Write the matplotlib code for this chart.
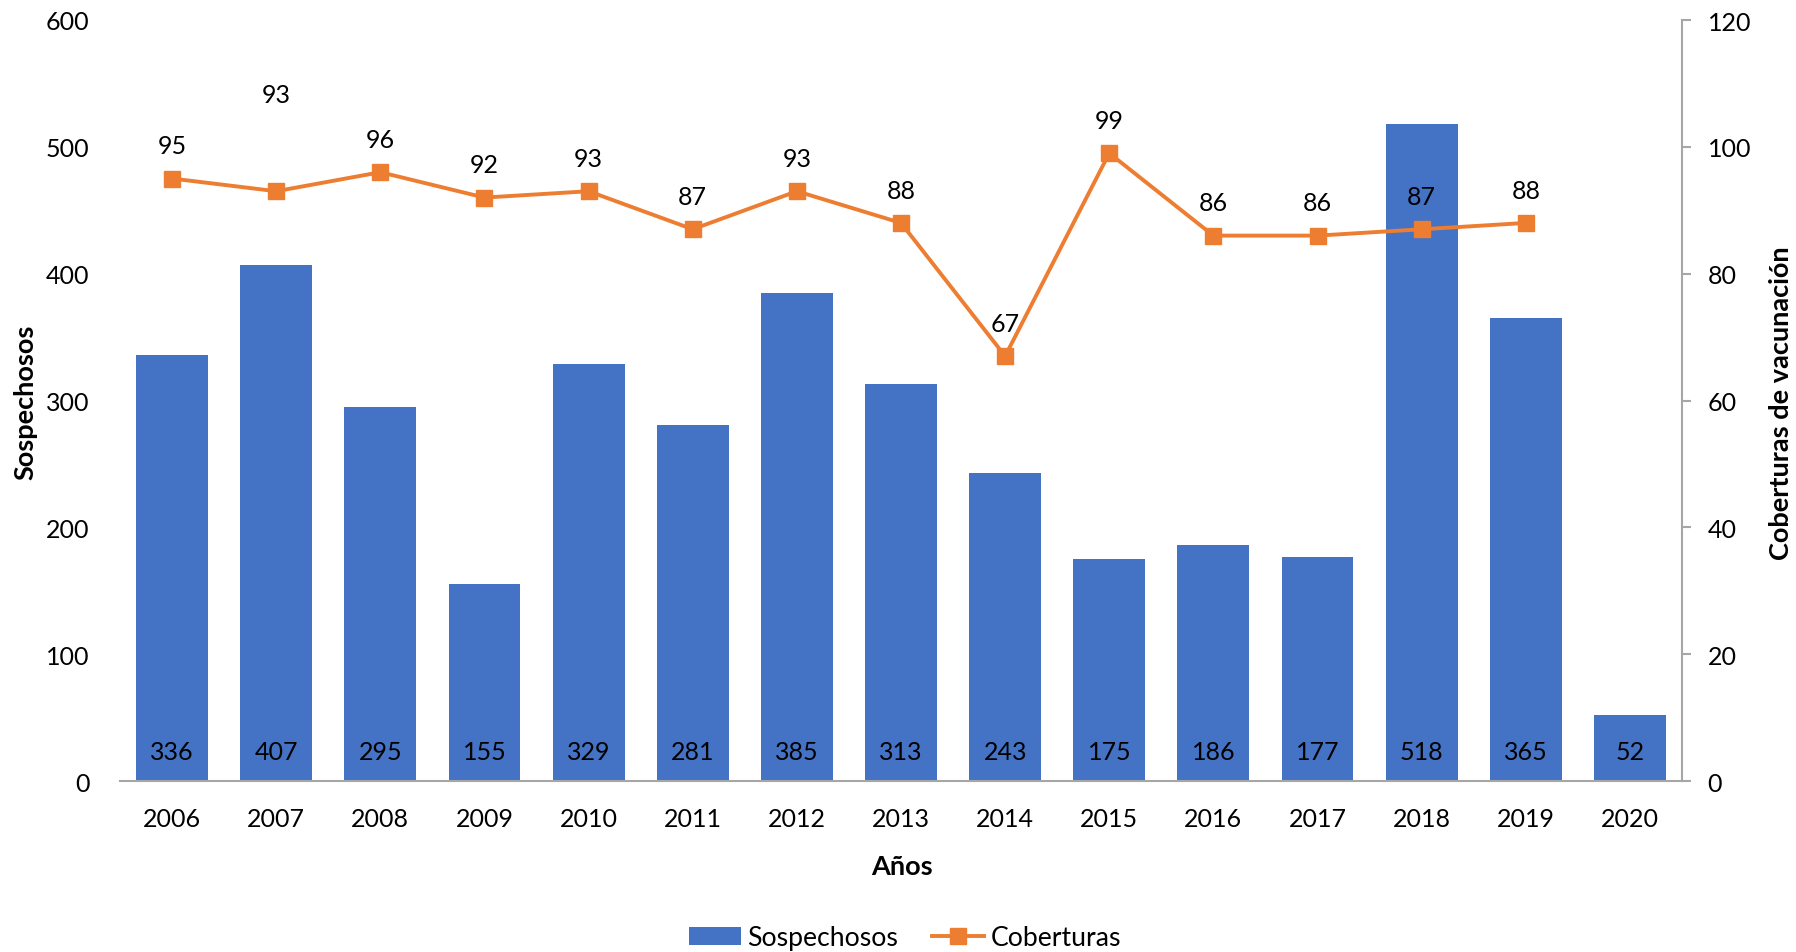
import matplotlib
matplotlib.use("Agg")
import matplotlib.pyplot as plt
from matplotlib.lines import Line2D
from matplotlib.patches import Patch

years = ["2006", "2007", "2008", "2009", "2010", "2011", "2012", "2013",
         "2014", "2015", "2016", "2017", "2018", "2019", "2020"]
sospechosos = [336, 407, 295, 155, 329, 281, 385, 313, 243, 175, 186, 177, 518, 365, 52]
coberturas = [95, 93, 96, 92, 93, 87, 93, 88, 67, 99, 86, 86, 87, 88]

BLUE = "#4472C4"
ORANGE = "#ED7D31"
plt.rcParams['font.family'] = ['Lato', 'DejaVu Sans']
FS = 18.5
FSL = 19.5
FSB = 19

W, H = 1796, 953
fig = plt.figure(figsize=(W/100, H/100), dpi=100)
ax = fig.add_axes([120/W, 1-782/H, (1682-120)/W, (782-21)/H])
x = list(range(len(years)))
ax.bar(x, sospechosos, width=0.69, color=BLUE, zorder=2)
ax.set_xlim(-0.5, len(years)-0.5)
ax.set_ylim(0, 600)
ax.set_yticks([0, 100, 200, 300, 400, 500, 600])
ax.set_xticks(x)
ax.set_xticklabels(years)
for s in ["top", "right", "left"]:
    ax.spines[s].set_visible(False)
ax.spines["bottom"].set_color("#A6A6A6")
ax.spines["bottom"].set_linewidth(1.5)
ax.tick_params(axis="y", length=0, pad=22, labelsize=FS)
ax.tick_params(axis="x", length=0, pad=19, labelsize=FS)
for xi, v in zip(x, sospechosos):
    ax.annotate(str(v), (xi, 0), xytext=(0, 21.5), textcoords="offset points",
                ha="center", va="center", fontsize=FS, color="black", zorder=4)

ax2 = ax.twinx()
ax2.set_ylim(0, 120)
ax2.set_yticks([0, 20, 40, 60, 80, 100, 120])
for s in ["top", "left", "bottom"]:
    ax2.spines[s].set_visible(False)
ax2.spines["right"].set_color("#A6A6A6")
ax2.spines["right"].set_linewidth(1.5)
ax2.tick_params(axis="y", length=6.5, width=1.5, color="#A6A6A6", pad=12, labelsize=FS)
ax2.plot(x[:len(coberturas)], coberturas, color=ORANGE, lw=2.8, marker="s",
         markersize=12, zorder=3)
for xi, v in zip(x, coberturas):
    off = 70 if xi == 1 else 23.5
    ax2.annotate(str(v), (xi, v), xytext=(0, off), textcoords="offset points",
                 ha="center", va="center", fontsize=FS, color="black")

t_left = fig.text(25/W, 1-402/H, "Sospechosos", rotation=90, ha="center", va="center",
                  fontsize=FSB, fontweight="bold")
t_right = fig.text(1781/W, 1-403/H, "Coberturas de vacunación", rotation=90, ha="center",
                   va="center", fontsize=FSB, fontweight="bold")
t_x = fig.text(902/W, 1-867/H, "Años", ha="center", va="center", fontsize=FSB, fontweight="bold")

handles = [Patch(facecolor=BLUE), Line2D([], [], color=ORANGE, lw=2.8, marker="s", markersize=12)]
leg = fig.legend(handles, ["Sospechosos", "Coberturas"], loc="center",
                 bbox_to_anchor=(905/W, 1-939/H), ncol=2, frameon=False,
                 fontsize=FSL, handlelength=1.9, handleheight=0.6, handletextpad=0.25,
                 columnspacing=1.25, borderpad=0.2)

# fit bold axis-title sizes to the reference's measured text lengths (pixels)
fig.canvas.draw()
r = fig.canvas.get_renderer()
len_left = t_left.get_window_extent(r).height
len_right = t_right.get_window_extent(r).height
scale = (154 / len_left + 317 / len_right) / 2
newb = FSB * scale
for t in (t_left, t_right, t_x):
    t.set_fontsize(newb)
# fit tick label size to ~58 px for a four-digit year
tw = ax.get_xticklabels()[0].get_window_extent(r).width
newfs = FS * 58 / tw
ax.tick_params(axis="both", labelsize=newfs)
ax2.tick_params(axis="y", labelsize=newfs)
for child in ax.texts + ax2.texts:
    child.set_fontsize(newfs)
# fit legend text to ~151 px
lw_ = leg.get_texts()[0].get_window_extent(r).width
for tt in leg.get_texts():
    tt.set_fontsize(FSL * 151 / lw_)

fig.savefig("out.png", dpi=100)
